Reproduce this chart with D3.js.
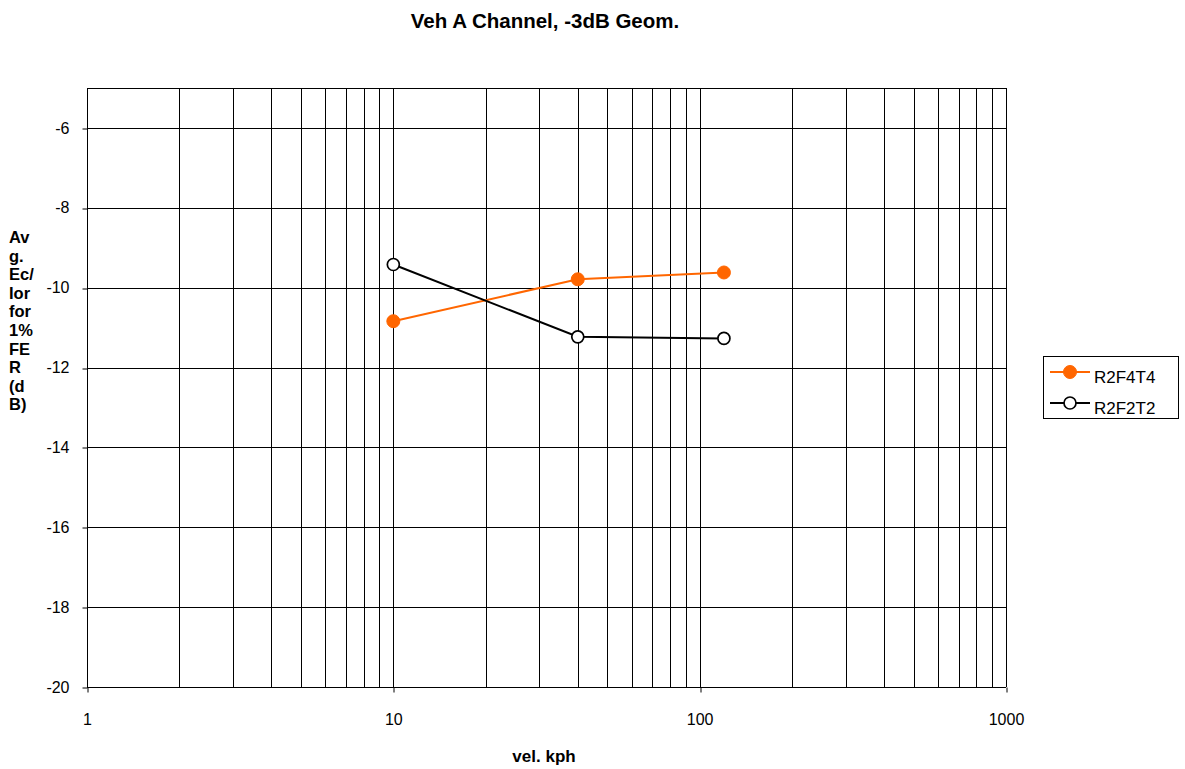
<!DOCTYPE html>
<html><head><meta charset="utf-8">
<script src="https://cdn.jsdelivr.net/npm/d3@7"></script>
<style>body{margin:0;background:#fff;font-family:"Liberation Sans",Arial,sans-serif}</style>
</head><body><svg id="c" width="1185" height="769"></svg>
<script>
const velocities = [10, 40, 120];
const seriesNames = ["R2F4T4", "R2F2T2"];
const r2f4t4 = [-10.84, -9.79, -9.62];
const r2f2t2 = [-9.42, -11.23, -11.27];
const yTicks = [-20, -18, -16, -14, -12, -10, -8, -6];
const xTicks = [1, 10, 100, 1000];
const yLabelLines = ["Av", "g.", "Ec/", "Ior", "for", "1%", "FE", "R", "(d", "B)"];
const colors = ["#ff6600", "#000000"];

const svg = d3.select("#c");
const L = 87, R = 1006, T = 88, B = 687;
const x = d3.scaleLog().domain([1, 1000]).range([L, R]);
const y = d3.scaleLinear().domain([-20, -5]).range([B, T]);

// minor grid
const gridX = [];
for (let d = 1; d < 1000; d *= 10) for (let k = 1; k <= 10; k++) gridX.push(d * k);
const g = svg.append("g");
g.selectAll("line.gx").data(gridX.filter(v => v > 1 && v <= 1000)).join("line")
  .attr("x1", d => Math.round(x(d)) + 0.5).attr("x2", d => Math.round(x(d)) + 0.5)
  .attr("y1", T).attr("y2", B).attr("stroke", "#000").attr("stroke-width", 1);
g.selectAll("line.gy").data(yTicks.filter(v => v > -20)).join("line")
  .attr("x1", L).attr("x2", R)
  .attr("y1", d => Math.round(y(d)) + 0.5).attr("y2", d => Math.round(y(d)) + 0.5)
  .attr("stroke", "#000");
g.append("line").attr("x1", L).attr("x2", R).attr("y1", T + 0.5).attr("y2", T + 0.5).attr("stroke", "#000");

// axes
const yAxis = d3.axisLeft(y).tickValues(yTicks).tickSize(5).tickPadding(13).tickFormat(d3.format("d"));
const ya = svg.append("g").attr("transform", `translate(${L + 0.5},0)`).call(yAxis);
ya.attr("font-size", 16).attr("font-family", "Liberation Sans, Arial");
ya.select(".domain").attr("d", `M0,${T}V${B}`);
ya.selectAll("text").text(d => d < 0 ? "-" + Math.abs(d) : d);
ya.selectAll(".tick line").attr("transform", d => `translate(0,${Math.round(y(d)) + 0.5 - y(d)})`);

const xAxis = d3.axisBottom(x).tickValues(xTicks).tickSize(5).tickPadding(21).tickFormat(d3.format("d"));
const xa = svg.append("g").attr("transform", `translate(0,${B + 0.5})`).call(xAxis);
xa.attr("font-size", 16).attr("font-family", "Liberation Sans, Arial");
xa.select(".domain").attr("d", `M${L},0H${R}`);
xa.selectAll(".tick line").attr("transform", d => `translate(${Math.round(x(d)) + 0.5 - x(d)},0)`);

// series
const series = [r2f4t4, r2f2t2];
const line = d3.line().x((d, i) => x(velocities[i])).y(d => y(d));
series.forEach((vals, si) => {
  svg.append("path").datum(vals).attr("d", line).attr("fill", "none")
    .attr("stroke", colors[si]).attr("stroke-width", 2);
  svg.selectAll(null).data(vals).join("circle")
    .attr("cx", (d, i) => x(velocities[i])).attr("cy", d => y(d)).attr("r", si === 0 ? 6.5 : 6)
    .attr("fill", si === 0 ? colors[0] : "#fff").attr("stroke", colors[si]).attr("stroke-width", si === 0 ? 1 : 1.7);
});

// title
svg.append("text").attr("x", 545).attr("y", 28).attr("text-anchor", "middle")
  .attr("font-size", 20.5).attr("font-weight", "bold").text("Veh A Channel, -3dB Geom.");
// x label
svg.append("text").attr("x", 544).attr("y", 762).attr("text-anchor", "middle")
  .attr("font-size", 17).attr("font-weight", "bold").text("vel. kph");
// y label
svg.append("g").selectAll("text").data(yLabelLines).join("text")
  .attr("x", 9).attr("y", (d, i) => 243 + i * 18.6)
  .attr("font-size", 16.5).attr("font-weight", "bold").text(d => d);

// legend
const lg = svg.append("g");
lg.append("rect").attr("x", 1043.5).attr("y", 356.5).attr("width", 135).attr("height", 62)
  .attr("fill", "#fff").attr("stroke", "#000");
seriesNames.forEach((n, i) => {
  const yy = 372 + i * 31;
  lg.append("line").attr("x1", 1050).attr("x2", 1090).attr("y1", yy).attr("y2", yy)
    .attr("stroke", colors[i]).attr("stroke-width", 2);
  lg.append("circle").attr("cx", 1070).attr("cy", yy).attr("r", i === 0 ? 6.5 : 6)
    .attr("fill", i === 0 ? colors[0] : "#fff").attr("stroke", colors[i]).attr("stroke-width", i === 0 ? 1 : 1.7);
  lg.append("text").attr("x", 1094).attr("y", yy + 11).attr("font-size", 17).text(n);
});
</script></body></html>
